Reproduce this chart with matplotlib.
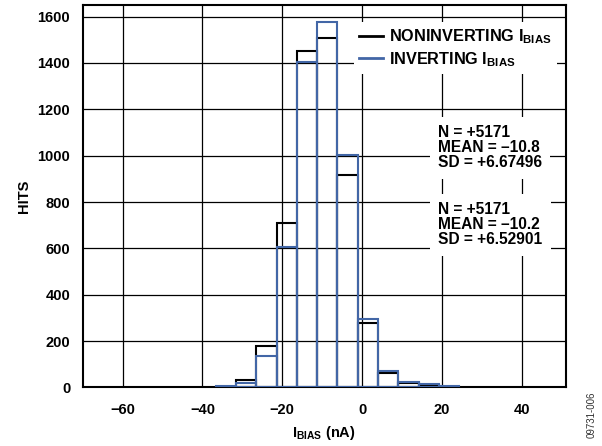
import numpy as np
import matplotlib
matplotlib.use('Agg')
from matplotlib import pyplot as plt

plt.rcParams['font.family'] = ['Liberation Sans', 'DejaVu Sans']
plt.rcParams['font.weight'] = 'bold'
plt.rcParams['mathtext.fontset'] = 'custom'
plt.rcParams['mathtext.bf'] = 'Liberation Sans:bold'
plt.rcParams['mathtext.rm'] = 'Liberation Sans:bold'

# bin edges (nA) and hit counts
bin_edges = [-36.7, -31.6, -26.5, -21.4, -16.35, -11.25, -6.2, -1.1, 4.0, 9.1, 14.2, 19.2, 24.3]
noninv_hits = [4, 32, 180, 711, 1451, 1507, 915, 278, 61, 20, 12, 4]
inv_hits = [7, 21, 136, 607, 1406, 1576, 1004, 296, 72, 24, 16, 8]

x_ticks = [-60, -40, -20, 0, 20, 40]
y_ticks = [0, 200, 400, 600, 800, 1000, 1200, 1400, 1600]

stats_noninv = 'N = +5171\nMEAN = \u201310.8\nSD = +6.67496'
stats_inv = 'N = +5171\nMEAN = \u201310.2\nSD = +6.52901'

BLUE = '#4266A6'

fig = plt.figure(figsize=(6.02, 4.46), dpi=100)
ax = fig.add_axes([0.1374, 0.1312, 0.8023, 0.8576])

lefts = np.array(bin_edges[:-1])
widths = np.diff(bin_edges)
ax.bar(lefts, noninv_hits, width=widths, align='edge', fill=False,
       edgecolor='black', linewidth=1.5, zorder=3)
ax.bar(lefts, inv_hits, width=widths, align='edge', fill=False,
       edgecolor=BLUE, linewidth=1.5, zorder=4)

# legend handles
ax.plot([], [], color='black', lw=2, label=r'NONINVERTING I$_\mathbf{BIAS}$')
ax.plot([], [], color=BLUE, lw=2, label=r'INVERTING I$_\mathbf{BIAS}$')

ax.set_xlim(-70, 51)
ax.set_ylim(0, 1650)
ax.set_xticks(x_ticks)
ax.set_yticks(y_ticks)
ax.grid(True, color='black', linewidth=0.9, zorder=0)
ax.set_axisbelow(True)
ax.tick_params(length=0, labelsize=10.5)
ax.tick_params(axis='x', pad=11)
ax.tick_params(axis='y', pad=9)
for s in ax.spines.values():
    s.set_linewidth(1.5)

ax.set_ylabel('HITS', fontsize=10.5, fontweight='bold', labelpad=5)
ax.set_xlabel(r'I$_\mathbf{BIAS}$ (nA)', fontsize=10.5, fontweight='bold', labelpad=5)

leg = ax.legend(loc='upper right', bbox_to_anchor=(0.988, 0.963), fontsize=11.7,
                frameon=True, fancybox=False, edgecolor='none', framealpha=1,
                handlelength=1.45, handletextpad=0.4, labelspacing=0.25,
                borderpad=0.3, borderaxespad=0.2)
leg.set_zorder(5)

box = dict(facecolor='white', edgecolor='none', pad=6)
ax.text(0.7356, 0.627, stats_noninv, transform=ax.transAxes, ha='left', va='center',
        fontsize=11.2, fontweight='bold', linespacing=1.0, bbox=box, zorder=6)
ax.text(0.7356, 0.425, stats_inv, transform=ax.transAxes, ha='left', va='center',
        fontsize=11.2, fontweight='bold', linespacing=1.0, bbox=box, zorder=6)

fig.text(0.983, 0.07, '09731-006', rotation=90, ha='center', va='center',
         fontsize=7, fontweight='normal', color='#333333')

fig.savefig('out.png', dpi=100)
